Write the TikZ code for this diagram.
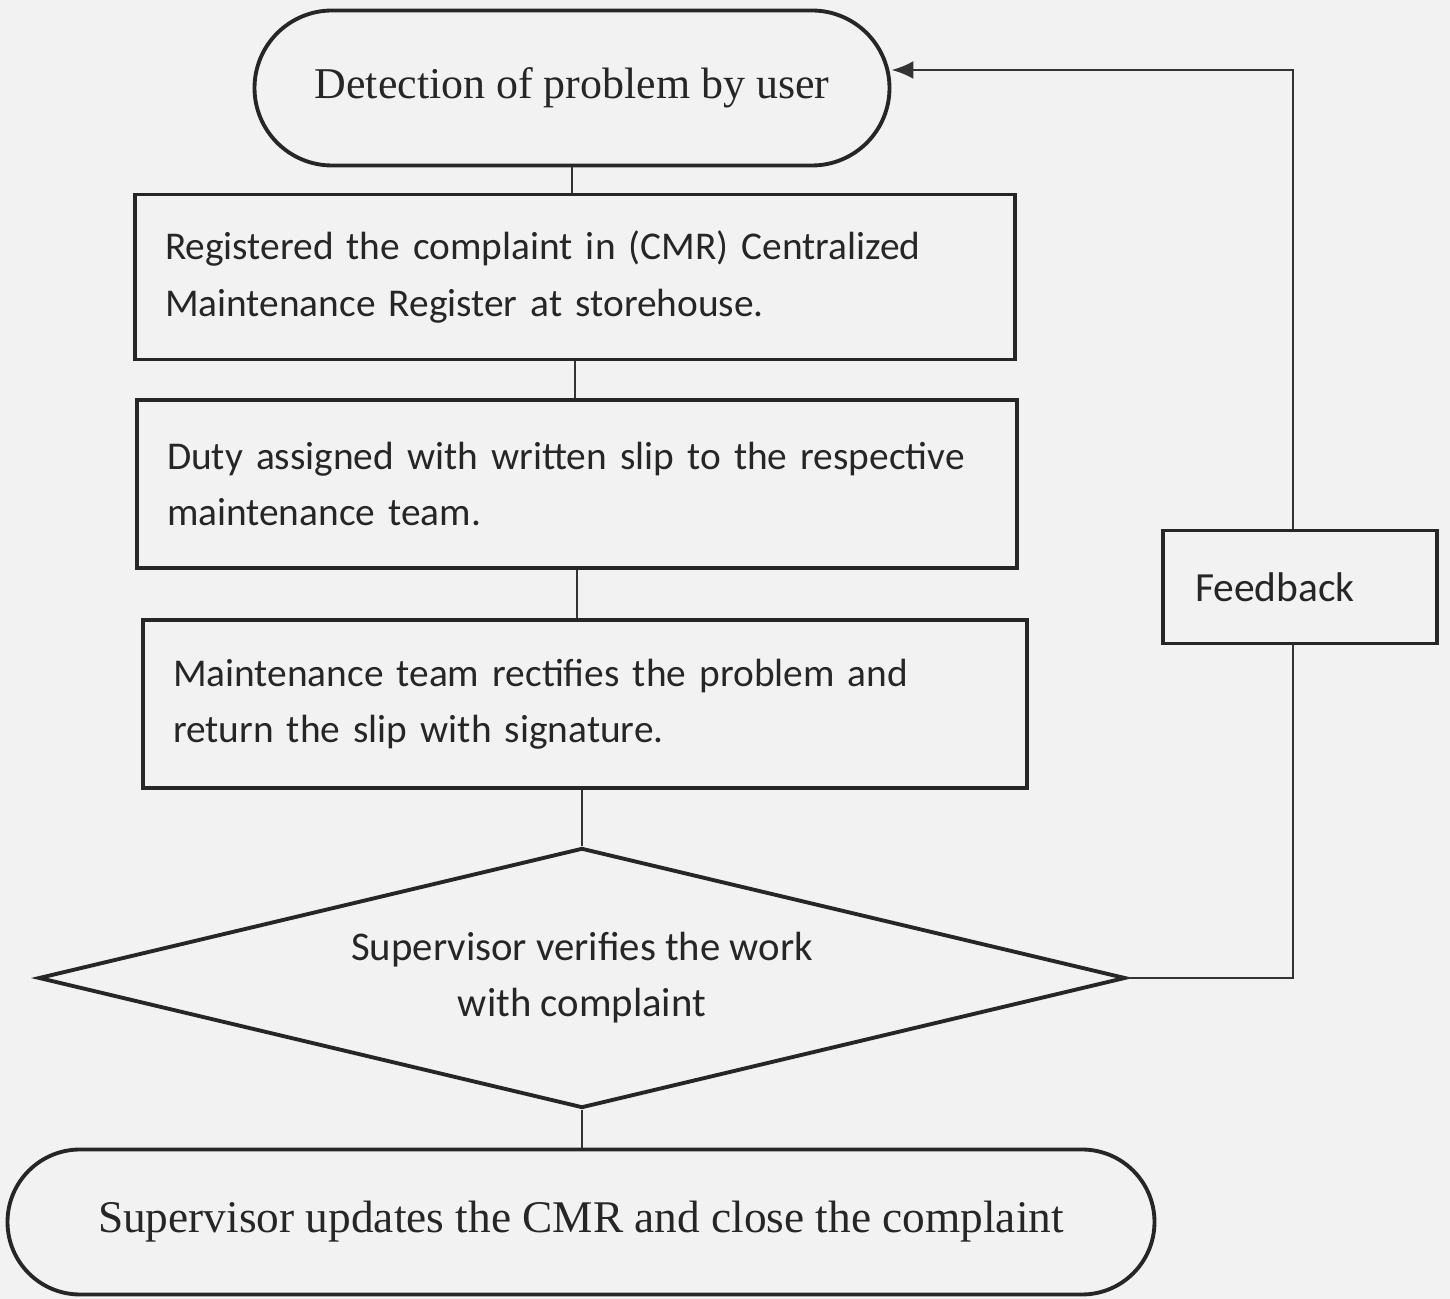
\documentclass[tikz,border=0pt]{standalone}
\usepackage{fontspec}
\setmainfont{Liberation Serif}
\newfontfamily\calib{Carlito}
\usetikzlibrary{shapes.geometric,shapes.misc,arrows.meta}
\begin{document}
\begin{tikzpicture}[x=0.1mm,y=-0.1mm,
  ink/.style={draw=black!85, line width=1.1pt, text=black!85},
  term/.style={ink, rounded rectangle, inner sep=0pt, font=\fontsize{12.5}{15}\selectfont},
  procbox/.style={ink, rectangle, inner xsep=3mm, align=left, font=\calib\fontsize{11.2}{16}\selectfont},
  decision/.style={ink, diamond, shape aspect=4.2, inner sep=0pt, align=center, font=\calib\fontsize{11.6}{16}\selectfont},
  conn/.style={draw=black!80, line width=0.8pt}]
\fill[black!5] (0,0) rectangle (1450,1299);
\useasboundingbox (0,0) rectangle (1450,1299);

\node[term, minimum width=63.5mm, minimum height=15.5mm] (top) at (572,88) {Detection of problem by user};
\node[procbox, minimum width=88mm, minimum height=16.5mm, text width=82mm] (b1) at (575,277)
  {Registered the complaint in (CMR) Centralized\\Maintenance Register at storehouse.};
\node[procbox, minimum width=88mm, minimum height=16.8mm, text width=82mm] (b2) at (577,484)
  {Duty assigned with written slip to the respective\\maintenance team.};
\node[procbox, minimum width=88.4mm, minimum height=16.8mm, text width=82.4mm] (b3) at (585,704)
  {Maintenance team rectifies the problem and\\return the slip with signature.};
\node[decision, minimum width=108.7mm, minimum height=26mm] (dia) at (582,978)
  {Supervisor verifies the work\\with complaint};
\node[term, minimum width=114.7mm, minimum height=14.5mm, font=\fontsize{12.9}{15}\selectfont] (end) at (581,1222)
  {Supervisor updates the CMR and close the complaint};

\draw[conn] (top.south) -- (top.south |- b1.north);
\draw[conn] (b1.south) -- (b1.south |- b2.north);
\draw[conn] (b2.south) -- (b2.south |- b3.north);
\draw[conn] (b3.south -| dia.north) -- (dia.north);
\draw[conn] (dia.south) -- (dia.south |- end.north);

\coordinate (fbc) at (1293,70);
\draw[conn, -{Latex[length=2.2mm,width=1.8mm]}] (dia.east) -| (fbc) -- (top.east |- fbc);

\node[procbox, fill=black!5, minimum width=27.4mm, minimum height=11.3mm, text width=21mm, inner xsep=3.2mm, font=\calib\fontsize{11.8}{16}\selectfont] (fb) at (1300,587) {Feedback};
\end{tikzpicture}
\end{document}
